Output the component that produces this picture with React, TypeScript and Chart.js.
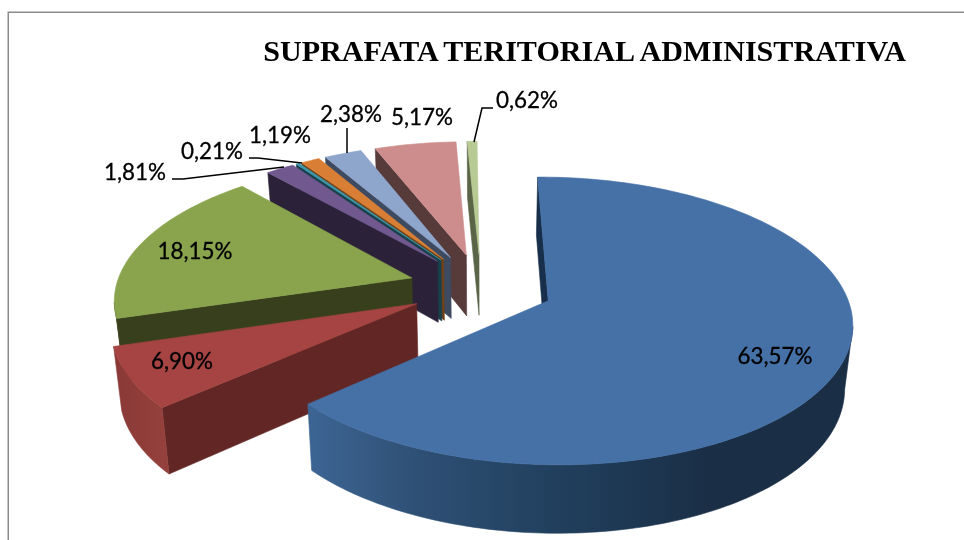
import React, { useEffect, useRef } from "react";
import { Chart, registerables } from "chart.js";

Chart.register(...registerables);

const categories = ["A", "B", "C", "D", "E", "F", "G", "H", "I"];
const values = [63.57, 6.9, 18.15, 1.81, 0.21, 1.19, 2.38, 5.17, 0.62];
const topColors = ["#4571a7", "#a54442", "#89a44c", "#71598f", "#3a99ae", "#d97f35", "#8ea5cc", "#cd8d8d", "#b7ca93"];
const wallColors = ["#172f4a", "#622725", "#373f1c", "#2b2138", "#17404b", "#6e4119", "#3d4a60", "#573b3b", "#5a6547"];
const rimStops = [
  [[0, "#3d6594"], [0.2, "#2f5075"], [0.45, "#21405e"], [0.75, "#1a2e45"], [1, "#1a2e45"]],
  [[0, "#8a3936"], [1, "#94403d"]],
];
const titleText = "SUPRAFATA TERITORIAL ADMINISTRATIVA";

// layout of the text around the pie
const labelSpots = [[775, 357], [182, 362], [195, 252], [135, 173], [212, 152], [280, 136], [351, 115], [422, 118], [527, 101]];
const leaders = [
  [[172, 179], [183, 179], [284, 167]],
  [[249, 158], [258, 158], [302, 163]],
  [[347, 128], [347, 153]],
  [[493, 108], [482, 108], [474, 142]],
];

const CX = 481, CY = 287, RX = 296, RY = 137.2, PERSP = 0.138, EXPLODE = 0.245, DEPTH = 62, SHRINK = 0.978;

function project(U: number, V: number) {
  const w = 1 - PERSP * V;
  return { x: CX + (RX * U) / w, y: CY + (RY * V) / w, w };
}
function lower(p: { x: number; y: number; w: number }) {
  return { x: CX + (p.x - CX) * SHRINK, y: p.y + DEPTH / Math.pow(p.w, 0.6), w: p.w };
}
function fillPoly(ctx: CanvasRenderingContext2D, pts: { x: number; y: number }[], fill: any) {
  ctx.beginPath();
  pts.forEach((p, i) => (i ? ctx.lineTo(p.x, p.y) : ctx.moveTo(p.x, p.y)));
  ctx.closePath();
  ctx.fillStyle = fill;
  ctx.strokeStyle = fill;
  ctx.lineWidth = 0.6;
  ctx.fill();
  ctx.stroke();
}

const pie3d = {
  id: "pie3d",
  beforeDraw(chart: any) {
    const { ctx, width, height } = chart;
    ctx.save();
    ctx.fillStyle = "#ffffff";
    ctx.fillRect(0, 0, width, height);
    ctx.strokeStyle = "#8c8c8c";
    ctx.lineWidth = 1.5;
    ctx.beginPath();
    ctx.moveTo(8.25, height);
    ctx.lineTo(8.25, 12.25);
    ctx.lineTo(width, 12.25);
    ctx.stroke();
    ctx.restore();
    ctx.wordSpacing = "-3px"; // tight word gaps for the title
  },
  beforeDatasetsDraw(chart: any) {
    const { ctx } = chart;
    ctx.wordSpacing = "0px";
    const meta = chart.getDatasetMeta(0);
    ctx.save();
    for (let i = meta.data.length - 1; i >= 0; i--) {
      const arc = meta.data[i];
      const a0 = arc.startAngle, a1 = arc.endAngle, mid = (a0 + a1) / 2;
      const ox = EXPLODE * Math.cos(mid), oy = EXPLODE * Math.sin(mid);
      const apex = project(ox, oy);
      const steps = Math.max(4, Math.ceil((a1 - a0) / 0.02));
      const rim = [];
      for (let s = 0; s <= steps; s++) {
        const a = a0 + ((a1 - a0) * s) / steps;
        rim.push(project(ox + Math.cos(a), oy + Math.sin(a)));
      }
      const first = rim[0], last = rim[rim.length - 1];
      const wall = wallColors[i];
      // side faces turned towards the viewer
      if (apex.x > first.x) fillPoly(ctx, [apex, first, lower(first), lower(apex)], wall);
      if (last.x > apex.x) fillPoly(ctx, [last, apex, lower(apex), lower(last)], wall);
      const run = [];
      for (let s = 1; s < rim.length; s++) {
        if (rim[s].x < rim[s - 1].x) {
          if (!run.length) run.push(rim[s - 1]);
          run.push(rim[s]);
        }
      }
      if (run.length > 1) {
        const xs = run.map((p) => p.x);
        const x0 = Math.min(...xs), x1 = Math.max(...xs);
        let fill: any = wall;
        const stops = rimStops[i];
        if (stops) {
          fill = ctx.createLinearGradient(x0, 0, x1, 0);
          stops.forEach((st: any) => fill.addColorStop(st[0], st[1]));
        }
        fillPoly(ctx, [...run, ...run.slice().reverse().map(lower)], fill);
      }
      fillPoly(ctx, [apex, ...rim], arc.options.backgroundColor);
    }
    ctx.restore();
    return false;
  },
  afterDraw(chart: any) {
    const { ctx } = chart;
    ctx.save();
    ctx.strokeStyle = "#000000";
    ctx.lineWidth = 1.5;
    leaders.forEach((line) => {
      ctx.beginPath();
      line.forEach((p, i) => (i ? ctx.lineTo(p[0], p[1]) : ctx.moveTo(p[0], p[1])));
      ctx.stroke();
    });
    ctx.fillStyle = "#000000";
    ctx.lineWidth = 0.3;
    ctx.font = "22.4px Lato";
    ctx.textAlign = "center";
    ctx.textBaseline = "middle";
    values.forEach((v, i) => {
      const text = v.toFixed(2).replace(".", ",") + "%";
      ctx.fillText(text, labelSpots[i][0], labelSpots[i][1]);
      ctx.strokeText(text, labelSpots[i][0], labelSpots[i][1]);
    });
    ctx.restore();
  },
};

export default function App() {
  const ref = useRef<HTMLCanvasElement>(null);
  useEffect(() => {
    const chart = new Chart(ref.current as HTMLCanvasElement, {
      type: "pie",
      data: {
        labels: categories,
        datasets: [{ data: values, backgroundColor: topColors, borderWidth: 0 }],
      },
      options: {
        responsive: false,
        animation: false,
        rotation: -0.5,
        layout: { padding: { right: 58, top: 35 } },
        plugins: {
          legend: { display: false },
          tooltip: { enabled: false },
          title: {
            display: true,
            text: titleText,
            align: "end",
            color: "#000000",
            font: { family: "'Liberation Serif'", size: 30.1, weight: "bold" },
            padding: { top: 0, bottom: 0 },
          },
        },
      },
      plugins: [pie3d],
    } as any);
    return () => chart.destroy();
  }, []);
  return (
    <div style={{ position: "absolute", left: 0, top: 0, width: 964, height: 540 }}>
      <canvas ref={ref} width={964} height={540} style={{ display: "block" }} />
    </div>
  );
}
